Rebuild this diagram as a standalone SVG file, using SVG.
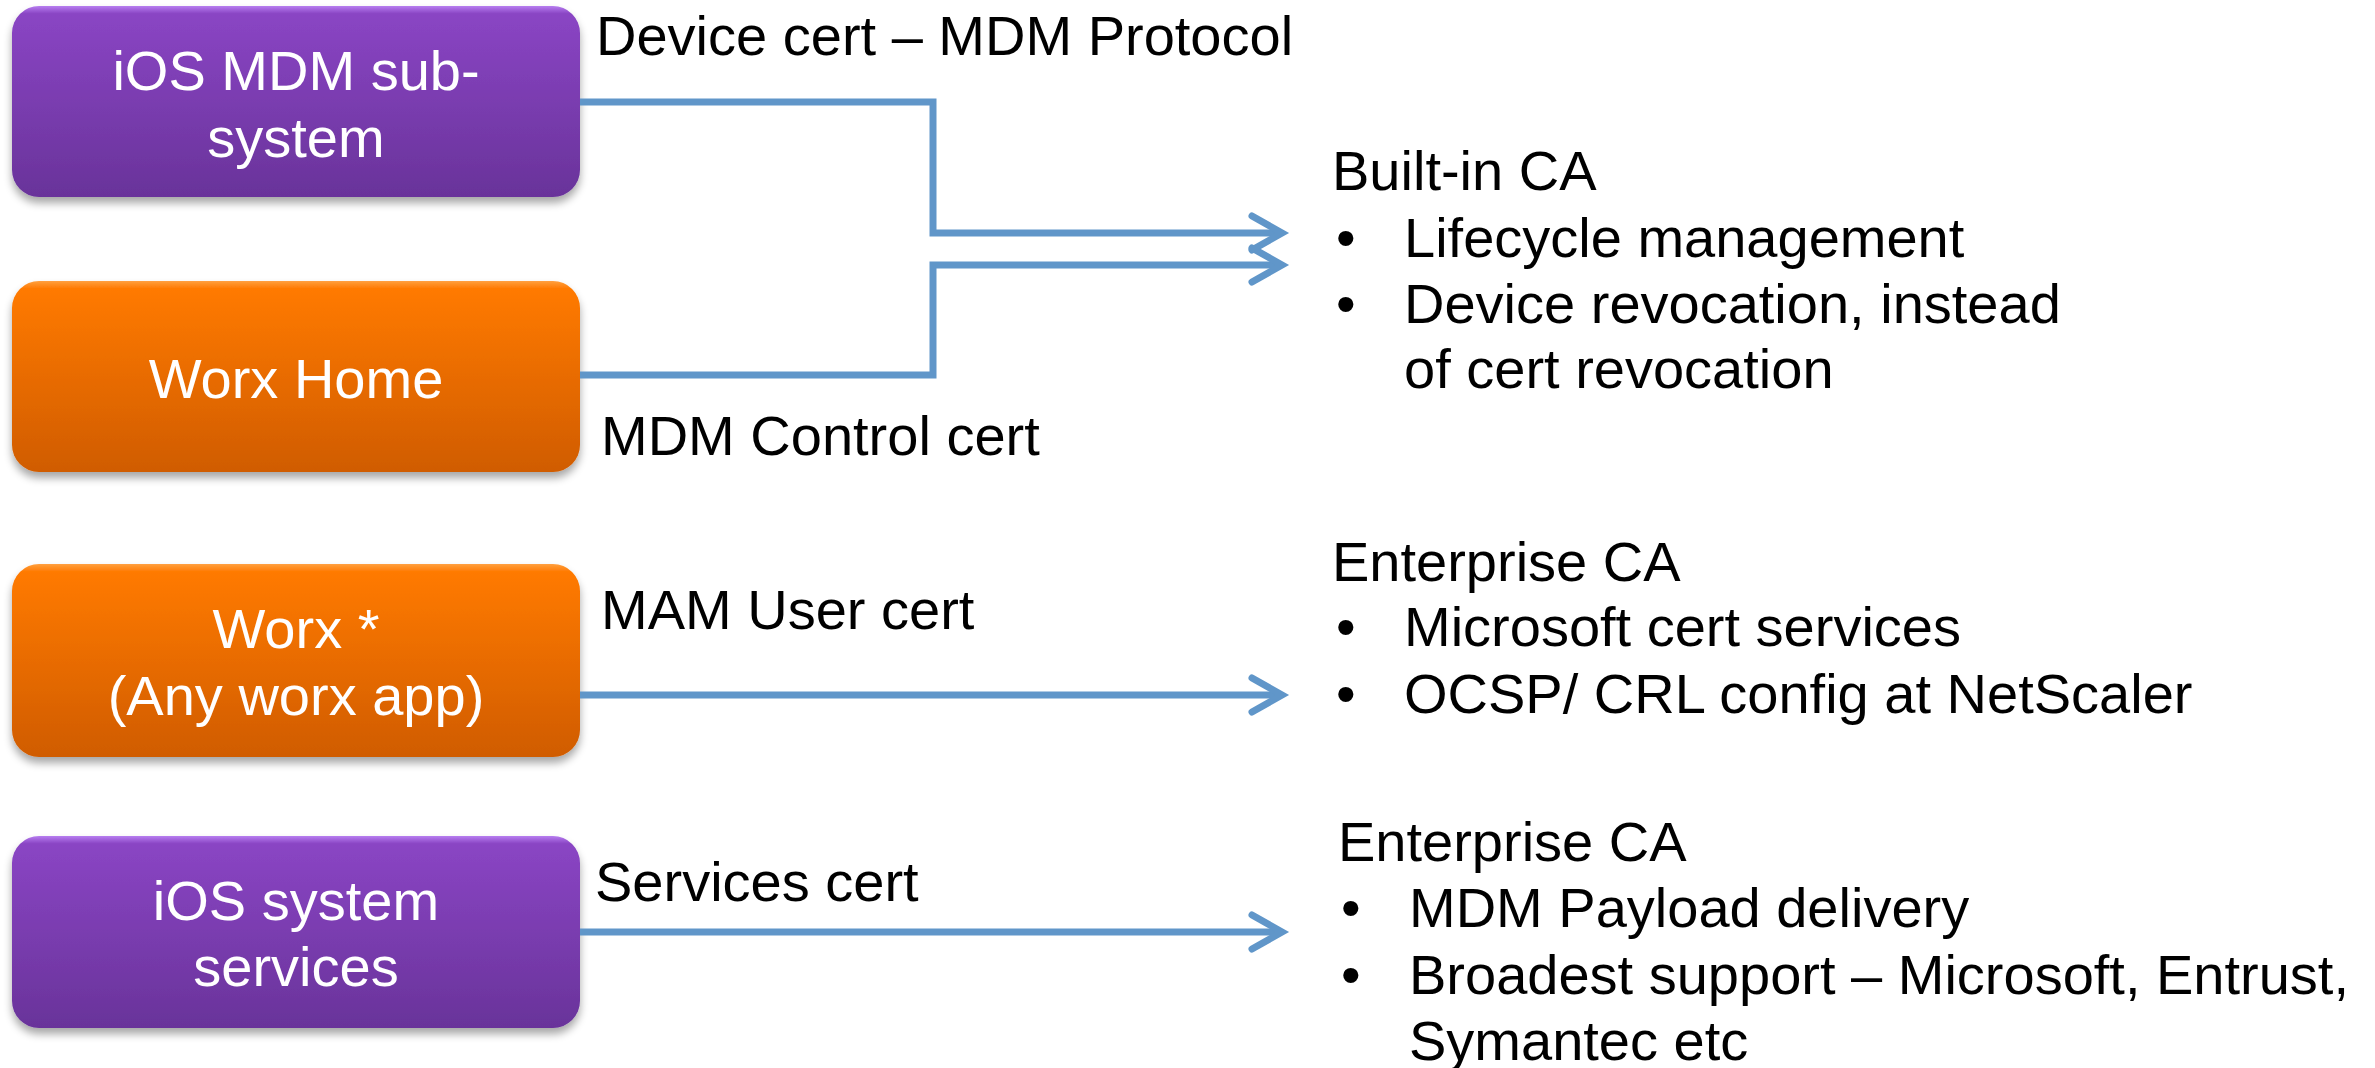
<svg xmlns="http://www.w3.org/2000/svg" width="2375" height="1068" viewBox="0 0 2375 1068">
<defs>
<linearGradient id="gPurple" x1="0" y1="0" x2="0" y2="1">
<stop offset="0" stop-color="#b77ef0"/>
<stop offset="0.04" stop-color="#8a45c4"/>
<stop offset="1" stop-color="#69339a"/>
</linearGradient>
<linearGradient id="gOrange" x1="0" y1="0" x2="0" y2="1">
<stop offset="0" stop-color="#ffa040"/>
<stop offset="0.04" stop-color="#ff7a00"/>
<stop offset="1" stop-color="#d05c00"/>
</linearGradient>
<filter id="shadow" x="-10%" y="-10%" width="120%" height="130%">
<feGaussianBlur in="SourceAlpha" stdDeviation="4"/>
<feOffset dx="0" dy="6" result="b"/>
<feComponentTransfer><feFuncA type="linear" slope="0.35"/></feComponentTransfer>
<feMerge><feMergeNode/><feMergeNode in="SourceGraphic"/></feMerge>
</filter>
<marker id="chev" markerUnits="userSpaceOnUse" refX="0" refY="0" markerWidth="10" markerHeight="10" orient="auto" overflow="visible">
<path d="M-30,-17 L0,0 L-30,17" fill="none" stroke="#6096c9" stroke-width="7" stroke-linecap="round" stroke-linejoin="miter"/>
</marker>
</defs>
<style>
.box{filter:url(#shadow)}
.boxtxt{font-family:"Liberation Sans",Arial,sans-serif;font-size:56px;fill:#ffffff;text-anchor:middle}
.lbl{font-family:"Liberation Sans",Arial,sans-serif;font-size:56px;fill:#000000}
.conn{fill:none;stroke:#6096c9;stroke-width:7;stroke-linejoin:miter}
</style>
<rect width="2375" height="1068" fill="#ffffff"/>

<g id="node-ios-mdm">
<rect class="box" x="12" y="6" width="568" height="191" rx="27" ry="27" fill="url(#gPurple)"/>
<text class="boxtxt" x="296" y="90">iOS MDM sub-</text>
<text class="boxtxt" x="296" y="157">system</text>
</g>

<g id="node-worx-home">
<rect class="box" x="12" y="281" width="568" height="191" rx="27" ry="27" fill="url(#gOrange)"/>
<text class="boxtxt" x="296" y="398">Worx Home</text>
</g>

<g id="node-worx-any">
<rect class="box" x="12" y="564" width="568" height="193" rx="27" ry="27" fill="url(#gOrange)"/>
<text class="boxtxt" x="296" y="648">Worx *</text>
<text class="boxtxt" x="296" y="715">(Any worx app)</text>
</g>

<g id="node-ios-services">
<rect class="box" x="12" y="836" width="568" height="192" rx="27" ry="27" fill="url(#gPurple)"/>
<text class="boxtxt" x="296" y="920">iOS system</text>
<text class="boxtxt" x="296" y="986">services</text>
</g>

<g id="node-builtin-ca">
<text class="lbl" x="1332" y="190">Built-in CA</text>
<text class="lbl" x="1336" y="257">•</text>
<text class="lbl" x="1404" y="257">Lifecycle management</text>
<text class="lbl" x="1336" y="323">•</text>
<text class="lbl" x="1404" y="323">Device revocation, instead</text>
<text class="lbl" x="1404" y="388">of cert revocation</text>
</g>

<g id="node-enterprise-ca-1">
<text class="lbl" x="1332" y="581">Enterprise CA</text>
<text class="lbl" x="1336" y="646">•</text>
<text class="lbl" x="1404" y="646">Microsoft cert services</text>
<text class="lbl" x="1336" y="713">•</text>
<text class="lbl" x="1404" y="713">OCSP/ CRL config at NetScaler</text>
</g>

<g id="node-enterprise-ca-2">
<text class="lbl" x="1338" y="861">Enterprise CA</text>
<text class="lbl" x="1341" y="927">•</text>
<text class="lbl" x="1409" y="927">MDM Payload delivery</text>
<text class="lbl" x="1341" y="994">•</text>
<text class="lbl" x="1409" y="994">Broadest support – Microsoft, Entrust,</text>
<text class="lbl" x="1409" y="1060">Symantec etc</text>
</g>

<g id="connectors">
<path class="conn" d="M580,102 H933 V233 H1282" marker-end="url(#chev)"/>
<path class="conn" d="M580,375 H933 V265 H1282" marker-end="url(#chev)"/>
<path class="conn" d="M580,695 H1282" marker-end="url(#chev)"/>
<path class="conn" d="M580,932 H1282" marker-end="url(#chev)"/>
<text class="lbl" x="596" y="55">Device cert – MDM Protocol</text>
<text class="lbl" x="601" y="455">MDM Control cert</text>
<text class="lbl" x="601" y="629">MAM User cert</text>
<text class="lbl" x="595" y="901">Services cert</text>
</g>
</svg>
